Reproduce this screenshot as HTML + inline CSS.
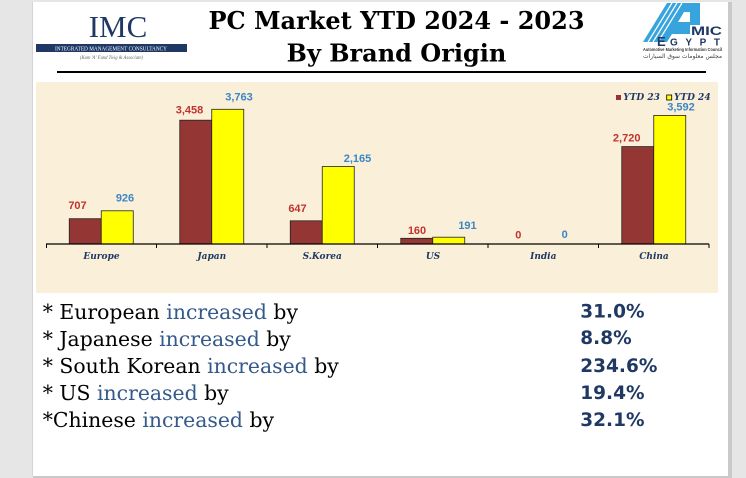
<!DOCTYPE html>
<html><head><meta charset="utf-8"><style>
html,body{margin:0;padding:0;background:#e6e6e6;}
body{width:746px;height:478px;overflow:hidden;position:relative;}
svg{position:absolute;left:0;top:0;}
</style></head><body>
<svg width="746" height="478" viewBox="0 0 746 478" xmlns="http://www.w3.org/2000/svg">
  <rect x="0" y="0" width="746" height="478" fill="#e6e6e6"/>
  <!-- page shadow -->
  <rect x="728" y="2" width="4" height="476" fill="#c9c9c9"/>
  <rect x="33" y="476" width="697" height="2" fill="#c9c9c9"/>
  <rect x="32" y="2" width="1" height="474" fill="#d4d4d4"/>
  <!-- page -->
  <rect x="33" y="2" width="695" height="474" fill="#ffffff"/>

  <!-- IMC logo -->
  <text x="118" y="37" text-anchor="middle" font-family="Liberation Serif, serif" font-size="31" fill="#1f3864">IMC</text>
  <rect x="36" y="44" width="151" height="8" fill="#1f3864"/>
  <text x="55" y="50.5" font-family="Liberation Serif, serif" font-size="6.5" fill="#ffffff" textLength="112" lengthAdjust="spacingAndGlyphs">INTEGRATED MANAGEMENT CONSULTANCY</text>
  <text x="80" y="59" font-family="Liberation Serif, serif" font-style="italic" font-size="5" fill="#666" textLength="63" lengthAdjust="spacingAndGlyphs">(Kam 'A' Fund Twig &amp; Associate)</text>

  <!-- Title -->
  <text x="396.5" y="29" text-anchor="middle" font-family="DejaVu Serif, serif" font-weight="bold" font-size="24" fill="#000">PC Market YTD 2024 - 2023</text>
  <text x="396.5" y="61.5" text-anchor="middle" font-family="DejaVu Serif, serif" font-weight="bold" font-size="24" fill="#000">By Brand Origin</text>

  <!-- AMIC logo -->
  <polygon points="643,42 667,3 700,3 700,25 690,25 690,34 672,34 667,42" fill="#38a4dd"/>
  <g stroke="#ffffff" stroke-width="1.2">
    <line x1="648" y1="42" x2="672" y2="3"/>
    <line x1="653" y1="42" x2="677" y2="3"/>
    <line x1="658" y1="42" x2="682" y2="3"/>
  </g>
  <polygon points="684,12 690,12 690,22 678,22" fill="#ffffff"/>
  <text x="691" y="35" font-family="Liberation Sans, sans-serif" font-weight="bold" font-size="12" fill="#1f3864" textLength="31" lengthAdjust="spacingAndGlyphs">MIC</text>
  <text x="657" y="46" font-family="Liberation Sans, sans-serif" font-weight="bold" font-size="13" fill="#1f3864">E</text>
  <text x="670" y="45.5" font-family="Liberation Sans, sans-serif" font-weight="bold" font-size="10" fill="#1f3864" textLength="50" lengthAdjust="spacing">GYPT</text>
  <text x="643" y="51" font-family="Liberation Sans, sans-serif" font-weight="bold" font-size="4.5" fill="#333" textLength="79" lengthAdjust="spacingAndGlyphs">Automotive Marketing Information Council</text>
  <text x="643" y="58" font-family="DejaVu Sans, sans-serif" font-size="6" fill="#444" textLength="79" lengthAdjust="spacingAndGlyphs">مجلس معلومات سوق السيارات</text>

  <!-- header line -->
  <rect x="57" y="71" width="649" height="2" fill="#000"/>

  <!-- chart background -->
  <rect x="36" y="82" width="682" height="211" fill="#faefd9"/>

  <!-- bars -->
  <g stroke="#222" stroke-width="0.8">
    <rect x="69.25" y="218.7" width="32" height="25.3" fill="#943634"/>
    <rect x="101.25" y="210.8" width="32" height="33.2" fill="#ffff00"/>
    <rect x="179.75" y="120.2" width="32" height="123.8" fill="#943634"/>
    <rect x="211.75" y="109.3" width="32" height="134.7" fill="#ffff00"/>
    <rect x="290.25" y="220.8" width="32" height="23.2" fill="#943634"/>
    <rect x="322.25" y="166.5" width="32" height="77.5" fill="#ffff00"/>
    <rect x="400.75" y="238.3" width="32" height="5.7" fill="#943634"/>
    <rect x="432.75" y="237.2" width="32" height="6.8" fill="#ffff00"/>
    <rect x="621.75" y="146.6" width="32" height="97.4" fill="#943634"/>
    <rect x="653.75" y="115.4" width="32" height="128.6" fill="#ffff00"/>
  </g>

  <!-- axis -->
  <line x1="46" y1="244" x2="709" y2="244" stroke="#000" stroke-width="1.2"/>
  <g stroke="#000" stroke-width="1">
    <line x1="46.5" y1="244" x2="46.5" y2="248"/>
    <line x1="156.5" y1="244" x2="156.5" y2="248"/>
    <line x1="267" y1="244" x2="267" y2="248"/>
    <line x1="377.5" y1="244" x2="377.5" y2="248"/>
    <line x1="488" y1="244" x2="488" y2="248"/>
    <line x1="598.5" y1="244" x2="598.5" y2="248"/>
    <line x1="709" y1="244" x2="709" y2="248"/>
  </g>

  <!-- data labels -->
  <g font-family="Liberation Sans, sans-serif" font-weight="bold" font-size="11" text-anchor="middle">
    <g fill="#c1332f">
      <text x="77.5" y="209">707</text>
      <text x="189.5" y="113.5">3,458</text>
      <text x="297.5" y="212">647</text>
      <text x="417" y="234">160</text>
      <text x="518.3" y="238.5">0</text>
      <text x="626.7" y="141.5">2,720</text>
    </g>
    <g fill="#3a87c6">
      <text x="125" y="201.5">926</text>
      <text x="239" y="100.5">3,763</text>
      <text x="357.5" y="162">2,165</text>
      <text x="467.5" y="229">191</text>
      <text x="564.7" y="238">0</text>
      <text x="681" y="110.5">3,592</text>
    </g>
  </g>

  <!-- category labels -->
  <g font-family="DejaVu Serif, serif" font-weight="bold" font-style="italic" font-size="9" fill="#1f3864" text-anchor="middle">
    <text x="101.5" y="259">Europe</text>
    <text x="211.75" y="259">Japan</text>
    <text x="322.25" y="259">S.Korea</text>
    <text x="433" y="259">US</text>
    <text x="543.3" y="259">India</text>
    <text x="654" y="259">China</text>
  </g>

  <!-- legend -->
  <rect x="616" y="95" width="5" height="5" fill="#943634"/>
  <text x="623.3" y="100" font-family="DejaVu Serif, serif" font-weight="bold" font-style="italic" font-size="9" fill="#1f3864">YTD 23</text>
  <rect x="666.7" y="95" width="5" height="5" fill="#ffff00" stroke="#000" stroke-width="0.8"/>
  <text x="674" y="100" font-family="DejaVu Serif, serif" font-weight="bold" font-style="italic" font-size="9" fill="#1f3864">YTD 24</text>

  <!-- bottom text -->
  <g font-family="DejaVu Serif, serif" font-size="20.4" fill="#000">
    <text x="42.7" y="319">* European <tspan fill="#34598a">increased</tspan> by</text>
    <text x="42.7" y="346">* Japanese <tspan fill="#34598a">increased</tspan> by</text>
    <text x="42.7" y="373">* South Korean <tspan fill="#34598a">increased</tspan> by</text>
    <text x="42.7" y="400">* US <tspan fill="#34598a">increased</tspan> by</text>
    <text x="42.7" y="427">*Chinese <tspan fill="#34598a">increased</tspan> by</text>
  </g>
  <g font-family="DejaVu Sans, sans-serif" font-weight="bold" font-size="18.5" fill="#1f3864">
    <text x="580.3" y="317.5">31.0%</text>
    <text x="580.3" y="344">8.8%</text>
    <text x="580.3" y="372">234.6%</text>
    <text x="580.3" y="399">19.4%</text>
    <text x="580.3" y="426">32.1%</text>
  </g>
</svg>
</body></html>
